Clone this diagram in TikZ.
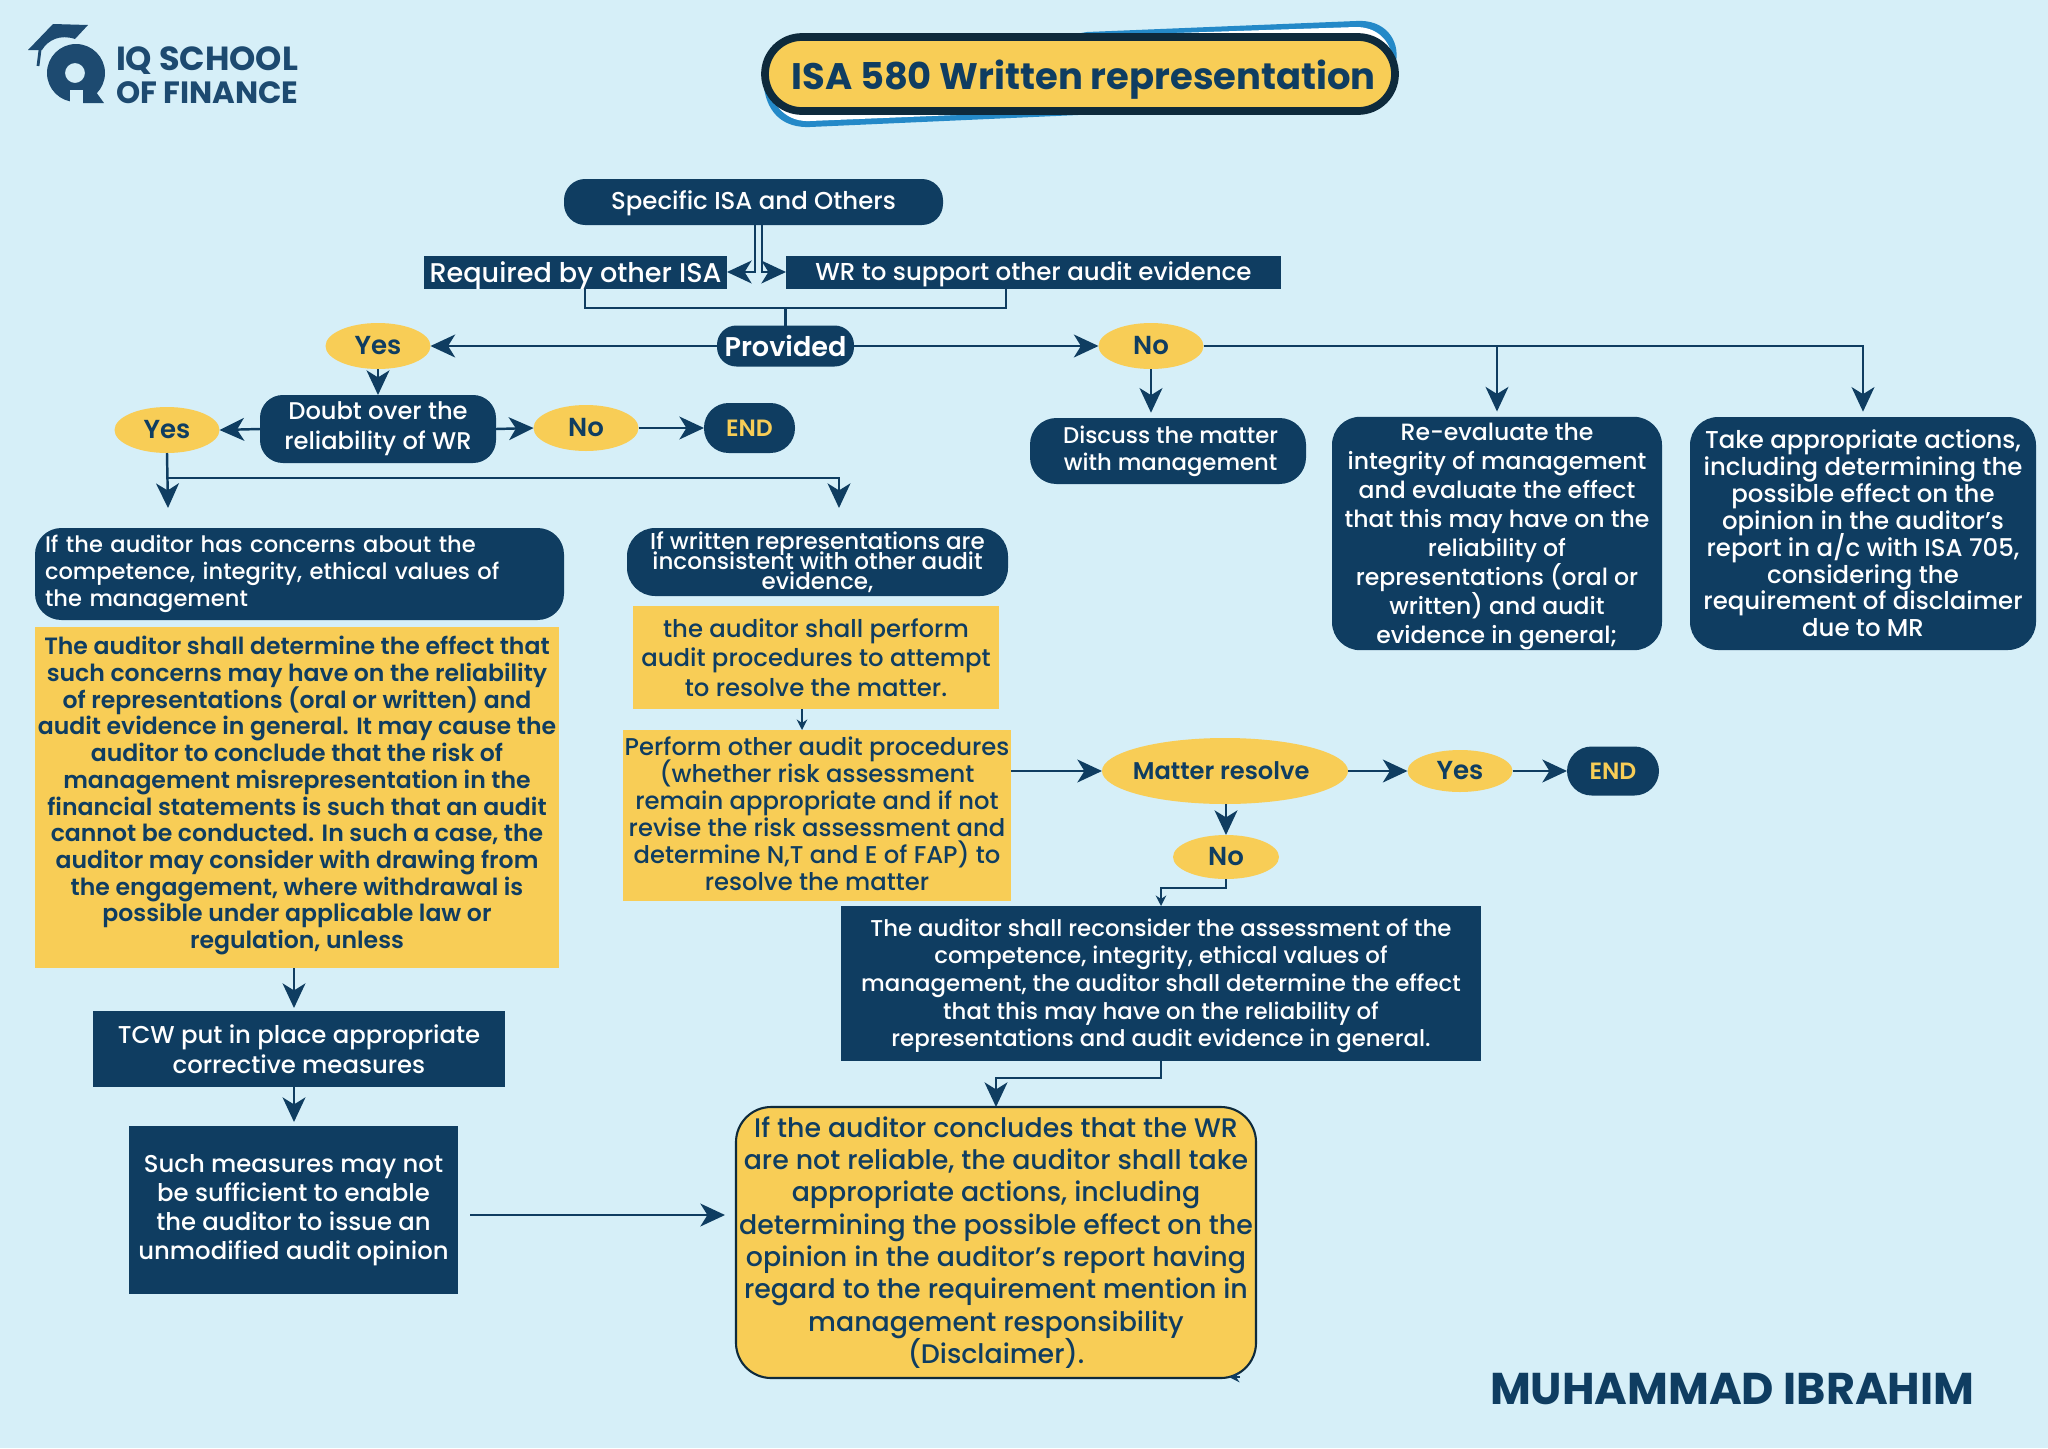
\documentclass[tikz,border=0pt]{standalone}
\usepackage{fontspec}
\usetikzlibrary{arrows.meta,shapes.geometric}
\setmainfont{Poppins}
\newfontfamily\medfont{Poppins Medium}
\newfontfamily\semifont{Poppins SemiBold}
\newfontfamily\boldfont{Poppins Bold}
\definecolor{navy}{HTML}{0F3D61}
\definecolor{sun}{HTML}{F8CD56}
\definecolor{pagebg}{HTML}{D6EFF8}
\definecolor{rimdark}{HTML}{0E2A3C}
\definecolor{swoosh}{HTML}{2489C8}
\definecolor{logoblue}{HTML}{1D4A70}
\newcommand{\sink}[2]{\raisebox{-#1}[0pt][0pt]{#2}}
\newcommand{\tightlines}{\lineskiplimit=-20pt\relax}
\tikzset{
    x=0.01cm, y=-0.01cm,
    >={Stealth[length=7pt,width=6.5pt,inset=2pt]},
    every node/.style={align=center, inner sep=0pt, outer sep=0pt},
    boxsize/.style 2 args={minimum width=#1*0.01cm, minimum height=#2*0.01cm},
    medtxt/.style 2 args={font=\medfont\fontsize{#1pt}{#2pt}\selectfont\tightlines},
    semitxt/.style 2 args={font=\semifont\fontsize{#1pt}{#2pt}\selectfont\tightlines},
    navybox/.style={rectangle, fill=navy, text=white},
    navypill/.style={rectangle, fill=navy, text=white, rounded corners=#1},
    sunbox/.style={rectangle, fill=sun, text=navy},
    sunoval/.style={ellipse, fill=sun, text=navy},
    link/.style={draw=navy, line width=0.7pt},
    arrow/.style={link, ->},
    gap/.style={shorten >=1.5pt},
    tinyarrow/.style={draw=navy, line width=0.45pt, ->, >={Stealth[length=3pt,width=3pt,inset=1pt]}},
}
\begin{document}
\begin{tikzpicture}
    \useasboundingbox (0,0) rectangle (2048,1448);
    \fill[pagebg] (0,0) rectangle (2048,1448);

    % logo
    \fill[logoblue, even odd rule] (76,73) circle (29) (75,73) circle (10);
    \fill[pagebg] (70,90) rectangle (83,104);
    \fill[logoblue] (83,88) -- (96,92) -- (104,103) -- (83,103) -- cycle;
    \fill[logoblue] (28,50) -- (53,24) -- (88,25) -- (75,39) .. controls (60,34) and (48,40) .. (42,50) -- cycle;
    \draw[logoblue, line width=0.8pt] (40,50) -- (38,66);
    \node[anchor=west, font=\boldfont\fontsize{9.5pt}{10pt}\selectfont, text=logoblue] (logotop) at (116,61) {IQ SCHOOL};
    \node[anchor=west, font=\boldfont\fontsize{8.75pt}{10pt}\selectfont, text=logoblue] (logobottom) at (116,93) {OF FINANCE};

    % title
    \fill[swoosh] (1087,32) -- (1356,21) .. controls (1385,19) and (1400,40) .. (1396,62) -- (1078,115) -- (810,127) .. controls (785,128) and (768,115) .. (764,88) -- cycle;
    \fill[white] (1087,36) -- (1356,27) .. controls (1375,27) and (1388,38) .. (1392,55) -- (1078,110) -- (810,121) .. controls (790,122) and (775,110) .. (770,90) -- cycle;
    \node[rectangle, draw=rimdark, line width=2.2pt, fill=sun, text=navy, rounded corners=10.5pt, boxsize={630}{74},
        font=\boldfont\fontsize{10.5pt}{12pt}\selectfont] (title) at (1080,74) {\hspace*{2pt}\sink{4.5pt}{ISA 580 Written representation}};

    % top of the chart
    \node[navypill=6pt, boxsize={379}{46}, medtxt={6.95}{8}] (specific) at (753.5,202) {\sink{2.2pt}{Specific ISA and Others}};
    \node[navybox, boxsize={303}{33}, medtxt={7.7}{8}] (required) at (575.5,272) {\sink{3.1pt}{Required by other ISA}};
    \node[navybox, boxsize={495}{33}, medtxt={6.97}{8}] (support) at (1033.5,272) {\sink{2.3pt}{WR to support other audit evidence}};
    \node[navypill=5.5pt, boxsize={137}{41}, semitxt={7.7}{8}] (provided) at (785.5,346) {Provided};
    \node[sunoval, boxsize={105}{46}, semitxt={7.4}{8}] (yesone) at (378,346) {Yes};
    \node[sunoval, boxsize={105}{46}, semitxt={7.4}{8}] (noone) at (1151,346) {No};

    % left part
    \node[navypill=6.5pt, boxsize={236}{68}, medtxt={6.87}{8.5}] (doubt) at (378,429) {Doubt over the\\reliability of WR};
    \node[sunoval, boxsize={105}{46}, semitxt={7.4}{8}] (yestwo) at (167,430) {Yes};
    \node[sunoval, boxsize={105}{46}, semitxt={7.4}{8}] (notwo) at (586,428) {No};
    \node[navypill=7pt, boxsize={91}{50}, semitxt={6.7}{8}, text=sun] (endone) at (749.5,428) {END};
    \coordinate (downleft) at (168,508);
    \coordinate (downright) at (839,508);
    \node[navypill=7.5pt, boxsize={529}{92}, medtxt={6.42}{7.7}, text width=509*0.01cm, align=left] (concerns) at (299.5,574)
        {If the auditor has concerns about the\\competence, integrity, ethical values of\\the management};
    \node[sunbox, boxsize={524}{341}, semitxt={6.7}{7.6}] (effect) at (297,797.5)
        {The auditor shall determine the effect that\\such concerns may have on the reliability\\of representations (oral or written) and\\audit evidence in general. It may cause the\\auditor to conclude that the risk of\\management misrepresentation in the\\financial statements is such that an audit\\cannot be conducted. In such a case, the\\auditor may consider with drawing from\\the engagement, where withdrawal is\\possible under applicable law or\\regulation, unless\\[-4.7pt]\mbox{}};
    \node[navybox, boxsize={412}{76}, medtxt={6.93}{8.5}] (measures) at (299,1049) {TCW put in place appropriate\\corrective measures};
    \node[navybox, boxsize={329}{168}, medtxt={6.92}{8.3}] (sufficient) at (293.5,1210) {Such measures may not\\be sufficient to enable\\the auditor to issue an\\unmodified audit opinion};

    % middle part
    \node[navypill=8pt, boxsize={381}{68}, medtxt={6.55}{5.7}] (inconsistent) at (817.5,562) {If written representations are\\inconsistent with other audit\\evidence,};
    \node[sunbox, boxsize={366}{103}, medtxt={6.93}{8.4}] (attempt) at (816,657.5) {the auditor shall perform\\audit procedures to attempt\\to resolve the matter.};
    \node[sunbox, boxsize={388}{171}, medtxt={6.9}{7.7}] (perform) at (817,815.5) {Perform other audit procedures\\(whether risk assessment\\remain appropriate and if not\\revise the risk assessment and\\determine N,T and E of FAP) to\\resolve the matter\\[-6.6pt]\mbox{}};
    \node[sunoval, boxsize={246}{66}, semitxt={6.87}{8}] (matter) at (1225,771) {\hspace*{-2.2pt}Matter resolve};
    \node[sunoval, boxsize={105}{42}, semitxt={7.4}{8}] (yesthree) at (1460,771) {Yes};
    \node[navypill=7pt, boxsize={92}{49}, semitxt={6.7}{8}, text=sun] (endtwo) at (1613,771) {END};
    \node[sunoval, boxsize={106}{44}, semitxt={7.4}{8}] (nothree) at (1226,857) {No};
    \node[navybox, boxsize={640}{155}, medtxt={6.5}{7.85}] (reconsider) at (1161,983.5) {\mbox{}\\[-1.57pt]The auditor shall reconsider the assessment of the\\competence, integrity, ethical values of\\management, the auditor shall determine the effect\\that this may have on the reliability of\\representations and audit evidence in general.};
    \node[rectangle, draw=rimdark, line width=0.6pt, fill=sun, text=navy, rounded corners=10pt, boxsize={520}{271}, medtxt={7.63}{9.2}] (disclaimer) at (996,1242.5) {If the auditor concludes that the WR\\are not reliable, the auditor shall take\\appropriate actions, including\\determining the possible effect on the\\opinion in the auditor’s report having\\regard to the requirement mention in\\management responsibility\\(Disclaimer).};
    \coordinate (fromsufficient) at (470,1215);
    \coordinate (tosufficient) at (725,1215);
    \coordinate (strayfrom) at (1240,1377);
    \coordinate (strayto) at (1229,1377);

    % right part
    \node[navypill=7.5pt, boxsize={276}{66}, medtxt={6.47}{7.6}] (discuss) at (1168,451) {\hspace*{1.5pt}Discuss the matter\\\hspace*{1.5pt}with management};
    \node[navypill=8pt, boxsize={330}{233}, medtxt={6.7}{8.25}] (reevaluate) at (1497,533.5) {\mbox{}\\[-1.45pt]Re-evaluate the\\integrity of management\\and evaluate the effect\\that this may have on the\\reliability of\\representations (oral or\\written) and audit\\evidence in general;};
    \node[navypill=8pt, boxsize={346}{233}, medtxt={6.94}{7.64}] (actions) at (1863,533.5) {Take appropriate actions,\\including determining the\\possible effect on the\\opinion in the auditor’s\\report in a/c with ISA 705,\\considering the\\requirement of  disclaimer\\due to MR};

    \node[anchor=west, font=\boldfont\fontsize{12.65pt}{14pt}\selectfont, text=navy] (name) at (1490,1389) {MUHAMMAD IBRAHIM};

    % connectors
    \coordinate (splitleft) at (755,225);
    \coordinate (splitright) at (762,225);
    \draw[arrow] (splitleft) |- (required.east);
    \draw[arrow] (splitright) |- (support.west);
    \coordinate (reqdrop) at (585,289);
    \coordinate (supdrop) at (1006,289);
    \coordinate (merge) at (785.5,308);
    \draw[link] (reqdrop) -- (reqdrop |- merge) -- (supdrop |- merge) -- (supdrop);
    \draw[link] (merge) -- (provided.north);
    \draw[arrow] (provided.west) -- (yesone.east);
    \draw[arrow] (provided.east) -- (noone.west);
    \draw[arrow] (yesone.south) -- (doubt.north);
    \draw[arrow] (doubt.west) -- (yestwo.east);
    \draw[arrow] (doubt.east) -- (notwo.west);
    \draw[arrow] (notwo.east) -- (endone.west);
    \draw[arrow] (yestwo.south) -- (downleft);
    \draw[arrow] (downleft |- 0,478) -- (downright |- 0,478) -- (downright);
    \draw[arrow] (effect.south -| measures.north) ++(-5,0) -- ++(0,40);
    \draw[arrow] (294,1087) -- (294,1122);
    \draw[arrow] (fromsufficient) -- (tosufficient);
    \draw[tinyarrow] (802,709) -- (802,730);
    \draw[arrow] (perform.east |- matter.west) -- (matter.west);
    \draw[arrow] (matter.east) -- (yesthree.west);
    \draw[arrow] (yesthree.east) -- (endtwo.west);
    \draw[arrow] (matter.south -| nothree.north) -- (nothree.north);
    \draw[tinyarrow] (nothree.south) -- ++(0,9) -| (reconsider.north);
    \draw[arrow] (reconsider.south) -- ++(0,17) -| (disclaimer.north);
    \draw[tinyarrow] (strayfrom) -- (strayto);
    \draw[arrow, gap] (noone.south) -- (noone.south |- discuss.north);
    \draw[arrow, gap] (noone.east) -| (actions.north);
    \draw[arrow, gap] (reevaluate.north |- noone.east) -- (reevaluate.north);
\end{tikzpicture}
\end{document}
